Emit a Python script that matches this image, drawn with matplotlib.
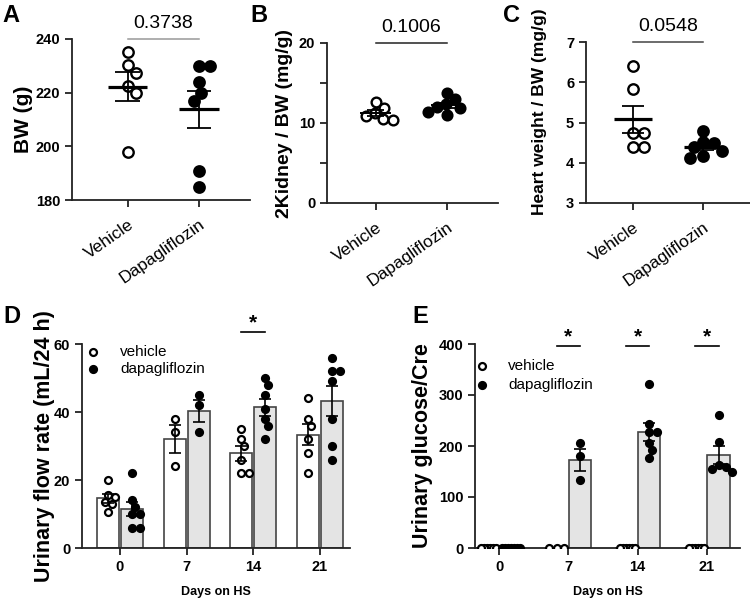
import matplotlib
matplotlib.use("Agg")
import matplotlib.pyplot as plt
import numpy as np

plt.rcParams['font.family'] = ['Liberation Sans', 'DejaVu Sans']

# --- Datos: paneles A-C (puntos individuales) ---
groups = ["Vehicle", "Dapagliflozin"]
bw_veh = [235.3, 230.3, 227.5, 222.5, 220.0, 197.8]
bw_dapa = [230.0, 230.0, 224.0, 220.0, 217.0, 190.7, 184.8]
kid_veh = [12.6, 11.9, 11.25, 10.9, 10.5, 10.4]
kid_dapa = [13.75, 13.0, 12.4, 12.0, 11.9, 11.4, 11.0]
heart_veh = [6.4, 5.82, 4.75, 4.75, 4.38, 4.38]
heart_dapa = [4.8, 4.52, 4.5, 4.38, 4.3, 4.18, 4.12]
p_vals = ["0.3738", "0.1006", "0.0548"]

# --- Datos: paneles D-E (dias en HS) ---
days = ["0", "7", "14", "21"]
flow_veh = [[20, 15.5, 15, 13.5, 13, 10.5],
            [38, 34, 24],
            [35, 32, 30, 26, 22, 22],
            [44, 38, 36, 32, 28, 22]]
flow_dapa = [[22, 14, 12, 10, 10, 6, 6],
             [45, 42, 34],
             [50, 48, 45, 41, 38, 36, 32],
             [56, 52, 52, 49, 38, 30, 26]]
glu_veh = [[0] * 6, [0] * 3, [0] * 6, [0] * 6]
glu_dapa = [[0] * 7,
            [206, 180, 133],
            [321, 243, 227, 227, 206, 192, 176],
            [260, 207, 163, 158, 155, 150]]
flow_sig = [False, False, True, False]
glu_sig = [False, True, True, True]
legend_labels = ["vehicle", "dapagliflozin"]

fig = plt.figure(figsize=(7.5, 5.98), dpi=100)
W, H = 750.0, 598.0


def add_ax(l, r, t, b):
    return fig.add_axes([l / W, 1 - b / H, (r - l) / W, (b - t) / H])


def style(ax):
    for s in ["top", "right"]:
        ax.spines[s].set_visible(False)
    for s in ["left", "bottom"]:
        ax.spines[s].set_linewidth(1.3)
        ax.spines[s].set_color("#222222")
    ax.tick_params(direction="out", length=5, width=1.3, color="#222222")
    for lab in ax.get_yticklabels():
        lab.set_fontweight("bold")
        lab.set_fontsize(10.5)


def swarm(ax, xc, vals, gap):
    # coloca los puntos sin solaparse (en pixeles)
    t = ax.transData
    sx = t.transform((1, 0))[0] - t.transform((0, 0))[0]
    ys = [t.transform((xc, v))[1] for v in vals]
    placed = []
    out = []
    for y in ys:
        cands = [0.0]
        for px, py in placed:
            dy = abs(y - py)
            if dy < gap:
                dx = np.sqrt(gap ** 2 - dy ** 2)
                cands += [px + dx, px - dx]
        cands = sorted(cands, key=abs)
        for c in cands:
            if all((c - px) ** 2 + (y - py) ** 2 >= gap ** 2 - 1e-6 for px, py in placed):
                break
        placed.append((c, y))
        out.append(xc + c / sx)
    return np.array(out)


def sem(v):
    v = np.asarray(v, float)
    return v.std(ddof=1) / np.sqrt(len(v))


def dot_panel(ax, veh, dapa, ylim, yticks, minor, ylabel, pval, ms, gap, mlw, mhalf, ehalf,
              xlim, lab_x, lab_y, lab_fs, pcolor):
    ax.set_xlim(*xlim)
    ax.set_ylim(*ylim)
    ax.set_yticks(yticks)
    if minor is not None:
        ax.set_yticks(minor, minor=True)
        ax.tick_params(which="minor", length=5, width=1.3, color="#222222")
    style(ax)
    for i, (vals, fill) in enumerate([(veh, "white"), (dapa, "black")]):
        xs = swarm(ax, i, vals, gap)
        ax.plot(xs, vals, "o", ms=ms, mfc=fill, mec="black", mew=1.7, zorder=3)
        m, e = np.mean(vals), sem(vals)
        ax.hlines(m, i - mhalf, i + mhalf, color="black", lw=mlw, zorder=4)
        ax.hlines([m - e, m + e], i - ehalf, i + ehalf, color="black", lw=1.3, zorder=4)
        ax.vlines(i, m - e, m + e, color="black", lw=1.3, zorder=4)
    ax.set_xticks([0, 1])
    ax.set_xticklabels(groups, rotation=35, ha="right", rotation_mode="anchor", fontsize=12.5)
    ax.tick_params(axis="x", pad=7)
    ax.set_ylabel(ylabel, fontsize=lab_fs, fontweight="bold")
    ax.yaxis.set_label_coords(lab_x, lab_y)
    ytop = ylim[1]
    ax.plot([0, 1], [ytop, ytop], color=pcolor, lw=1.1, clip_on=False)
    ax.annotate(pval, (0.5, ytop), xytext=(0, 5), textcoords="offset points",
                ha="center", va="bottom", fontsize=14, annotation_clip=False)


# --- Panel A ---
axA = add_ax(72, 250, 39, 200)
dot_panel(axA, bw_veh, bw_dapa, (180, 240), [180, 200, 220, 240], None,
          "BW (g)", p_vals[0], 7.5, 11, 2.3, 0.28, 0.17, (-0.78, 1.72),
          -39 / 178, 0.5, 15, "#999999")
# --- Panel B ---
axB = add_ax(327, 498, 43, 203)
dot_panel(axB, kid_veh, kid_dapa, (0, 20), [0, 10, 20], [5, 15],
          "2Kidney / BW (mg/g)", p_vals[1], 7, 10, 1.4, 0.22, 0.12, (-0.68, 1.71),
          -34 / 171, 0.5, 14, "#222222")
# --- Panel C ---
axC = add_ax(586, 750, 42, 203)
dot_panel(axC, heart_veh, heart_dapa, (3, 7), [3, 4, 5, 6, 7], None,
          "Heart weight / BW (mg/g)", p_vals[2], 7.5, 11, 2.3, 0.27, 0.16, (-0.67, 1.67),
          -39 / 164, 0.57, 12.5, "#444444")


def bar_panel(ax, veh, dapa, sig, ylim, yticks, ylabel, xlim, off, bw, sig_y,
              lab_x, leg_mx, leg_tx, leg_y):
    ax.set_xlim(*xlim)
    ax.set_ylim(*ylim)
    ax.set_yticks(yticks)
    style(ax)
    x = np.arange(len(days))
    for j in range(len(days)):
        for vals, dx, fc, mfc in [(veh[j], -off, "white", "white"), (dapa[j], off, "#e4e4e4", "black")]:
            m, e = np.mean(vals), sem(vals)
            ax.bar(x[j] + dx, m, width=bw, color=fc, edgecolor="#444444", lw=1.2, zorder=1)
            gap = 7.5 if np.ptp(vals) > 0 or len(vals) <= 3 else 3
            xs = swarm(ax, x[j] + dx, vals, gap)
            ax.plot(xs, vals, "o", ms=5, mfc=mfc, mec="black", mew=1.6, zorder=3)
            if e > 0:
                ax.errorbar(x[j] + dx, m, yerr=e, fmt="none", ecolor="black",
                            elinewidth=1.2, capsize=4.5, capthick=1.2, zorder=4)
        if sig[j]:
            ax.plot([x[j] - off, x[j] + off], [sig_y, sig_y], color="black", lw=1.2, clip_on=False)
            ax.text(x[j], sig_y, "*", ha="center", va="bottom", fontsize=15, fontweight="bold")
    ax.set_xticks(x)
    ax.set_xticklabels(days, fontsize=10.5, fontweight="bold")
    ax.set_xlabel("Days on HS", fontsize=9, fontweight="bold", labelpad=9)
    ax.set_ylabel(ylabel, fontsize=15.5, fontweight="bold")
    ax.yaxis.set_label_coords(lab_x, 0.5)
    # leyenda dibujada a mano
    for k, (lab, mfc) in enumerate(zip(legend_labels, ["white", "black"])):
        ax.plot([leg_mx], [leg_y[k]], "o", ms=5, mfc=mfc, mec="black", mew=1.6,
                transform=ax.transAxes, clip_on=False)
        ax.text(leg_tx, leg_y[k], lab, transform=ax.transAxes, fontsize=11,
                ha="left", va="center")


# --- Panel D ---
axD = add_ax(82, 350, 344, 548)
bar_panel(axD, flow_veh, flow_dapa, flow_sig, (0, 60), [0, 20, 40, 60],
          "Urinary flow rate (mL/24 h)", (-0.57, 3.45), 0.18, 0.33, 63.5,
          -27 / 268, 11 / 268, 38 / 268, [(548 - 352) / 204, (548 - 369) / 204])
# --- Panel E ---
axE = add_ax(475, 740, 344, 548)
bar_panel(axE, glu_veh, glu_dapa, glu_sig, (0, 400), [0, 100, 200, 300, 400],
          "Urinary glucose/Cre", (-0.35, 3.48), 0.17, 0.32, 396,
          -42 / 265, 7 / 265, 33 / 265, [(548 - 366) / 204, (548 - 385) / 204])

# --- Letras de panel ---
for lab, x, y in [("A", 2, 22), ("B", 250, 22), ("C", 503, 22), ("D", 3, 323), ("E", 412, 323)]:
    fig.text(x / W, 1 - y / H, lab, fontsize=17, fontweight="bold", ha="left", va="baseline")

fig.savefig("out.png", dpi=100)
